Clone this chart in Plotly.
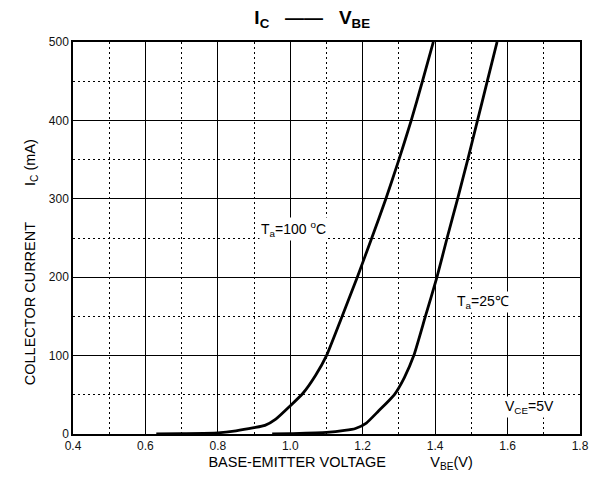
import plotly.graph_objects as go

# Data
vbe_100 = [0.63, 0.70, 0.80, 0.85, 0.90, 0.93, 0.96, 1.00, 1.035, 1.07, 1.10, 1.143, 1.185, 1.225, 1.264, 1.30, 1.334, 1.365, 1.395]
ic_100 = [0, 0.5, 1.5, 4, 8, 11, 19, 36, 52, 75, 100, 150, 200, 250, 300, 350, 400, 450, 500]

vbe_25 = [0.95, 1.00, 1.10, 1.15, 1.18, 1.21, 1.243, 1.287, 1.315, 1.341, 1.373, 1.405, 1.433, 1.462, 1.49, 1.517, 1.544, 1.571]
ic_25 = [0, 0.5, 2, 4.5, 7, 14, 29, 50, 72, 100, 150, 200, 250, 300, 350, 400, 450, 500]

x_ticks = [0.4, 0.6, 0.8, 1.0, 1.2, 1.4, 1.6, 1.8]
x_labels = ["0.4", "0.6", "0.8", "1.0", "1.2", "1.4", "1.6", "1.8"]
y_ticks = [0, 100, 200, 300, 400, 500]

FONT = "Liberation Sans, Arial, sans-serif"
NB = "&nbsp;"

fig = go.Figure()
for xs, ys in [(vbe_100, ic_100), (vbe_25, ic_25)]:
    fig.add_trace(go.Scatter(x=xs, y=ys, mode="lines",
                             line=dict(color="black", width=2.8, shape="spline", smoothing=0.5),
                             showlegend=False, hoverinfo="skip"))

fig.update_layout(
    width=597, height=482,
    margin=dict(l=73, r=8, t=42, b=48),
    paper_bgcolor="white", plot_bgcolor="white",
    font=dict(family=FONT, color="black", size=12),
    title=dict(text="<b>I<sub>C</sub>   ——   V<sub>BE</sub></b>",
               x=0.523, xanchor="center", y=0.978, yanchor="top",
               font=dict(size=19, family=FONT, color="black")),
    showlegend=False,
)

fig.update_xaxes(
    range=[0.4, 1.8], tickvals=x_ticks, ticktext=x_labels,
    showgrid=True, gridcolor="black", gridwidth=1,
    minor=dict(dtick=0.1, tick0=0.4, showgrid=True, gridcolor="black", gridwidth=1, griddash="2px,3px"),
    showline=True, linecolor="black", linewidth=1.5, mirror=True, zeroline=False,
    ticks="", tickfont=dict(size=12, color="#111"), ticklabeloverflow="allow",
    title=dict(text=NB * 7 + "BASE-EMITTER VOLTAGE           V<sub>BE</sub>(V)", font=dict(size=14.5), standoff=5),
)
fig.update_yaxes(
    range=[0, 500], tickvals=y_ticks,
    showgrid=True, gridcolor="black", gridwidth=1,
    minor=dict(dtick=50, tick0=0, showgrid=True, gridcolor="black", gridwidth=1, griddash="2px,3px"),
    showline=True, linecolor="black", linewidth=1.5, mirror=True, zeroline=False,
    ticks="", tickfont=dict(size=12, color="#111"),
    title=dict(text="COLLECTOR CURRENT         I<sub>C</sub> (mA)" + NB * 12, font=dict(size=14.5), standoff=10),
)

fig.add_annotation(x=1.01, y=262, text="T<sub>a</sub>=100 <sup>o</sup>C", showarrow=False,
                   font=dict(size=14), bgcolor="white", xanchor="center", yanchor="middle")
fig.add_annotation(x=1.531, y=168, text="T<sub>a</sub>=25℃", showarrow=False,
                   font=dict(size=14), bgcolor="white", xanchor="center", yanchor="middle")
fig.add_annotation(x=1.66, y=35, text="V<sub>CE</sub>=5V", showarrow=False,
                   font=dict(size=14), bgcolor="white", xanchor="center", yanchor="middle")

fig.write_html("out.html", config={"displayModeBar": False},
               post_script="document.body.style.margin='0px';document.body.style.overflow='hidden';")
